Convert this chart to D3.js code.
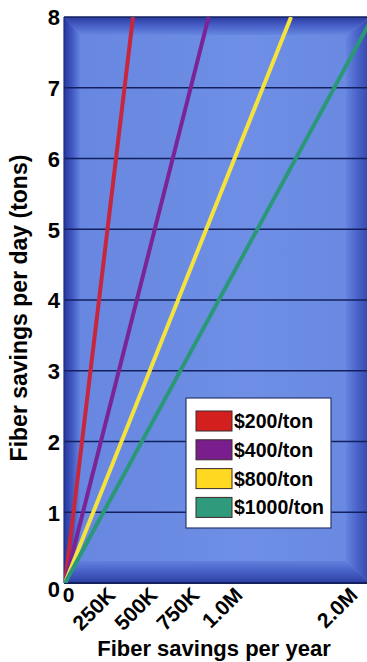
<!DOCTYPE html>
<html>
<head>
<meta charset="utf-8">
<script src="https://cdn.jsdelivr.net/npm/d3@7"></script>
<style>
  html, body { margin: 0; padding: 0; background: #fff; }
  svg { display: block; font-family: "Liberation Sans", Arial, sans-serif; }
</style>
</head>
<body>
<svg id="chart" width="367" height="662"></svg>
<script>
// Fiber savings per day (tons) against annual savings, one line per fiber price
const tonTicks = [0, 1, 2, 3, 4, 5, 6, 7, 8];
const yearTicks = [0, 250000, 500000, 750000, 1000000, 2000000];
const yearTickLabels = ["0", "250K", "500K", "750K", "1.0M", "2.0M"];
const priceNames = ["$200/ton", "$400/ton", "$800/ton", "$1000/ton"];
const lineColors = ["#c8263c", "#7b2496", "#f4e23e", "#2a9878"];
const swatchColors = ["#d3201f", "#7a1e8e", "#ffd822", "#2f9a7c"];
// annual savings reached at the top of the axis (8 tons/day)
const topTons = 8;
const savingsAtTop = [387000, 835000, 1470000, 2180000];

const svg = d3.select("#chart");
const plot = { left: 64, top: 17, right: 370, bottom: 583 };

// tick spacing on the year axis is uneven, so map each tick to its own place
const x = d3.scaleLinear()
  .domain(yearTicks)
  .range([65, 110, 152, 194, 237, 352]);
const y = d3.scaleLinear().domain([0, 8]).range([plot.bottom, plot.top]);

const defs = svg.append("defs");
function grad(id, x1, y1, x2, y2, stops) {
  const g = defs.append("linearGradient").attr("id", id)
    .attr("x1", x1).attr("y1", y1).attr("x2", x2).attr("y2", y2);
  stops.forEach(s => g.append("stop").attr("offset", s[0]).attr("stop-color", s[1]));
}
grad("face", 0, 0, 1, 0, [[0, "#6786e0"], [0.6, "#6e8fe5"], [1, "#6988e1"]]);
grad("bvLeft", 0, 0, 1, 0, [[0, "#26379e"], [0.5, "#4157c1"], [1, "#6484de"]]);
grad("bvTop", 0, 0, 0, 1, [[0, "#2a3ba0"], [0.5, "#4961c9"], [1, "#6686e0"]]);
grad("bvRight", 0, 0, 1, 0, [[0, "#6584df"], [0.5, "#4961c7"], [1, "#3245ab"]]);
grad("bvBottom", 0, 0, 0, 1, [[0, "#6181dd"], [0.5, "#465fc5"], [1, "#2c3ea2"]]);
defs.append("clipPath").attr("id", "plotClip")
  .append("rect")
  .attr("x", plot.left).attr("y", plot.top)
  .attr("width", plot.right - plot.left).attr("height", plot.bottom - plot.top);

// bevelled panel
const L = plot.left, T = plot.top, R = plot.right, B = plot.bottom;
const bl = 16, bt = 18, br = 24, bb = 22;
svg.append("rect").attr("x", L).attr("y", T)
  .attr("width", R - L).attr("height", B - T).attr("fill", "url(#face)");
const bevel = [
  ["bvTop", [[L, T], [R, T], [R - br, T + bt], [L + bl, T + bt]]],
  ["bvBottom", [[L, B], [R, B], [R - br, B - bb], [L + bl, B - bb]]],
  ["bvLeft", [[L, T], [L + bl, T + bt], [L + bl, B - bb], [L, B]]],
  ["bvRight", [[R, T], [R - br, T + bt], [R - br, B - bb], [R, B]]]
];
svg.append("g").selectAll("polygon").data(bevel).join("polygon")
  .attr("points", d => d[1].map(p => p.join(",")).join(" "))
  .attr("fill", d => `url(#${d[0]})`);

// horizontal grid lines
svg.append("g").selectAll("line").data(tonTicks).join("line")
  .attr("x1", L).attr("x2", R)
  .attr("y1", d => y(d)).attr("y2", d => y(d))
  .attr("stroke", "#13205e")
  .attr("stroke-width", d => d === 0 ? 2 : 1.6);
svg.append("line").attr("x1", L).attr("x2", L).attr("y1", T).attr("y2", B)
  .attr("stroke", "#1e2c7a").attr("stroke-width", 1.2);

// price lines
const lineGen = d3.line().x(d => x(d[0])).y(d => y(d[1]));
svg.append("g").attr("clip-path", "url(#plotClip)")
  .selectAll("path").data(savingsAtTop).join("path")
  .attr("d", v => lineGen([[0, 0], [v, topTons]]))
  .attr("fill", "none")
  .attr("stroke", (v, i) => lineColors[i])
  .attr("stroke-width", 4)
  .attr("stroke-linecap", "butt");

// y axis
const yAxis = svg.append("g")
  .attr("transform", `translate(${L},0)`)
  .call(d3.axisLeft(y).tickValues(tonTicks).tickSize(0).tickPadding(4)
    .tickFormat(d3.format("d")));
yAxis.select(".domain").remove();
yAxis.selectAll("text")
  .attr("font-family", "'Liberation Sans', Arial, sans-serif")
  .attr("font-size", 22).attr("font-weight", "bold").attr("fill", "#000")
  .attr("dy", d => d === 0 ? "0.62em" : "0.36em");

// x axis, labels slanted upward to the tick
const xAxis = svg.append("g")
  .attr("transform", `translate(0,${B})`)
  .call(d3.axisBottom(x).tickValues(yearTicks).tickSize(0)
    .tickFormat((d, i) => yearTickLabels[i]));
xAxis.select(".domain").remove();
xAxis.selectAll("text")
  .attr("font-family", "'Liberation Sans', Arial, sans-serif")
  .attr("font-size", 21).attr("font-weight", "bold").attr("fill", "#000")
  .attr("y", 0)
  .each(function (d) {
    const t = d3.select(this);
    if (d === 0) {
      t.attr("text-anchor", "middle").attr("dy", null)
        .attr("transform", "translate(3,19)");
    } else {
      t.attr("text-anchor", "end").attr("dy", "0.36em")
        .attr("transform", "translate(1,8) rotate(-45)");
    }
  });

// axis titles
svg.append("text")
  .attr("x", 214).attr("y", 656)
  .attr("text-anchor", "middle")
  .attr("font-size", 22).attr("font-weight", "bold")
  .text("Fiber savings per year");
svg.append("text")
  .attr("transform", "translate(27,308) rotate(-90)")
  .attr("text-anchor", "middle")
  .attr("font-size", 23).attr("font-weight", "bold")
  .text("Fiber savings per day (tons)");

// legend
const legend = svg.append("g").attr("transform", "translate(186,398)");
legend.append("rect").attr("width", 145).attr("height", 130)
  .attr("fill", "#fff").attr("stroke", "#2a376e").attr("stroke-width", 1.2);
const item = legend.selectAll("g.item").data(priceNames).join("g")
  .attr("class", "item")
  .attr("transform", (d, i) => `translate(10,${13 + i * 28.8})`);
item.append("rect").attr("width", 36).attr("height", 20)
  .attr("fill", (d, i) => swatchColors[i])
  .attr("stroke", "#3a2a2a").attr("stroke-width", 1);
item.append("text").attr("x", 38).attr("y", 17)
  .attr("font-size", 19.5).attr("font-weight", "bold")
  .text(d => d);
</script>
</body>
</html>
